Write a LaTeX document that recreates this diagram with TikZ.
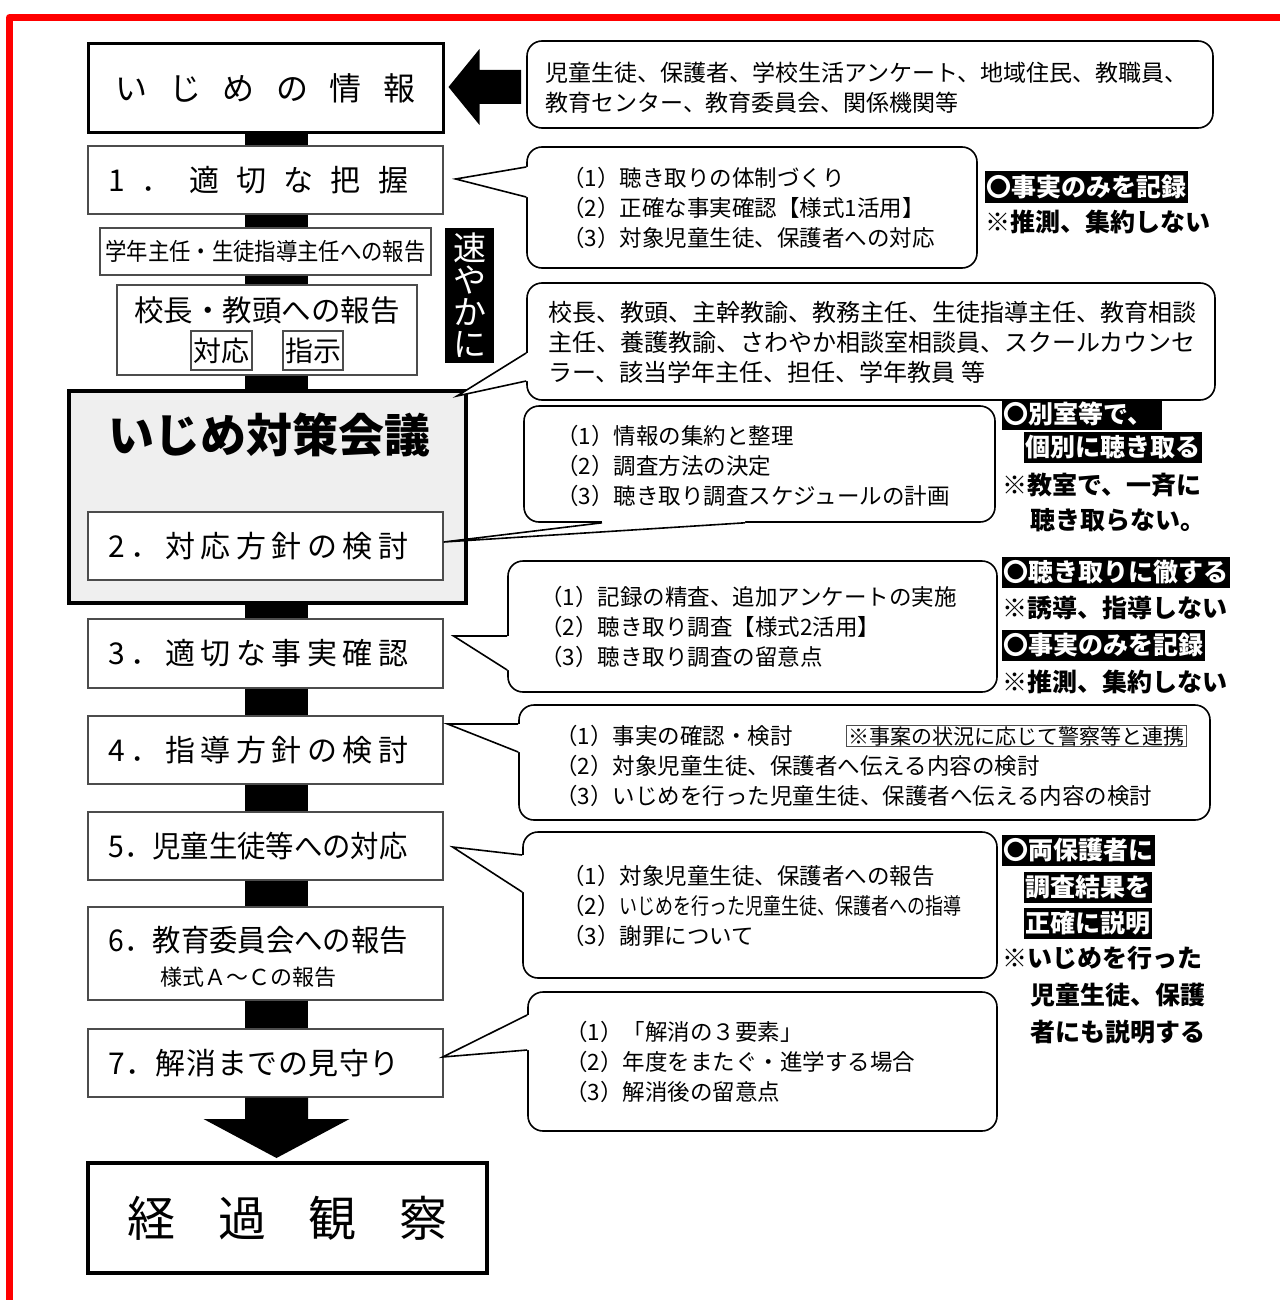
\documentclass[tikz,border=0pt]{standalone}
\usepackage{fontspec}
\usepackage{graphicx}
\setmainfont{Noto Sans CJK JP}
\usetikzlibrary{calc}
\definecolor{redframe}{RGB}{255,0,0}
\definecolor{confgray}{RGB}{239,239,239}
\newcommand{\fsz}[2]{\fontsize{#1}{#2}\selectfont}
\newcommand{\steptext}[2]{\makebox[315pt][l]{\makebox[#1]{#2}}}
\newcommand{\calloutptr}[5]{%
  \fill[white] ($(#1)+(#4,#5)$) -- (#1) -- (#2) -- (#3) -- ($(#3)+(#4,#5)$) -- cycle;
  \draw[ptr] (#1) -- (#2) -- (#3);}
\begin{document}
\begin{tikzpicture}[x=1pt,y=-1pt,
  stepbox/.style={draw=black!70, line width=1.2pt, fill=white, minimum width=355pt, minimum height=68pt, inner sep=0pt, font={\fsz{30}{36}}},
  thinbox/.style={draw=black!70, line width=1.2pt, fill=white, inner sep=0pt},
  cbox/.style={draw=black, line width=1.6pt, fill=white, rounded corners=15pt, inner sep=0pt},
  ptr/.style={draw=black, line width=1.6pt, line join=miter},
  ctext/.style={anchor=west, align=left, inner sep=0pt, font={\fsz{22.5}{30}}},
  hl/.style={fill=black, text=white, font={\bfseries\fsz{25}{30}}, inner xsep=1.5pt, inner ysep=0pt, minimum height=31pt, anchor=west},
  nt/.style={font={\bfseries\fsz{25}{30}}, inner sep=0pt, anchor=west},
  bar/.style={line width=63pt, draw=black}
]
\useasboundingbox (0,0) rectangle (1279,1300);
\fill[white] (0,0) rectangle (1279,1300);
\draw[redframe, line width=7pt, line join=round] (9.5,1320) -- (9.5,17.5) -- (1300,17.5);

% ---- left column ----
\node[draw=black, line width=3pt, fill=white, inner sep=0pt, minimum width=355pt, minimum height=89pt, font={\fsz{32}{36}}] (info) at (265.5,88.5)
  {\makebox[300pt]{い\hfill じ\hfill め\hfill の\hfill 情\hfill 報}};
\node[stepbox] (s1) at (265.5,180) {\steptext{300pt}{1\hfill ．\hfill 適\hfill 切\hfill な\hfill 把\hfill 握}};
\node[thinbox, minimum width=331pt, minimum height=47pt, font={\fsz{24}{28}}] (r1) at (265.5,251.5)
  {\scalebox{0.89}[1]{学年主任・生徒指導主任への報告}};
\node[thinbox, minimum width=300pt, minimum height=90pt] (r2) at (267,330) {};
\node[font={\fsz{29.5}{32}}, inner sep=0pt] (r2t) at (267,310) {校長・教頭への報告};
\node[thinbox, minimum width=61pt, minimum height=39pt, font={\fsz{28}{30}}] (r2a) at (221.5,350.5) {対応};
\node[thinbox, minimum width=60pt, minimum height=39pt, font={\fsz{28}{30}}] (r2b) at (313,350.5) {指示};
\node[fill=black, text=white, minimum width=49pt, minimum height=135pt, inner sep=0pt, align=center, font={\fsz{33}{32}}] (haya) at (469.5,295.5) {速\\や\\か\\に};

\node[draw=black, line width=4pt, fill=confgray, minimum width=397pt, minimum height=212pt] (conf) at (267.5,497) {};
\node[font={\bfseries\fsz{46}{50}}, inner sep=0pt] (conft) at (269,435) {いじめ対策会議};
\node[stepbox] (s2) at (265.5,546) {\steptext{300pt}{2\hfill ．\hfill 対\hfill 応\hfill 方\hfill 針\hfill の\hfill 検\hfill 討}};
\node[stepbox, minimum height=69pt] (s3) at (265.5,653.5) {\steptext{300pt}{3\hfill ．\hfill 適\hfill 切\hfill な\hfill 事\hfill 実\hfill 確\hfill 認}};
\node[stepbox] (s4) at (265.5,750) {\steptext{300pt}{4\hfill ．\hfill 指\hfill 導\hfill 方\hfill 針\hfill の\hfill 検\hfill 討}};
\node[stepbox] (s5) at (265.5,846) {\steptext{300pt}{\scalebox{0.945}[1]{5．児童生徒等への対応}}};
\node[stepbox, minimum height=93pt] (s6) at (265.5,953.5) {};
\node[font={\fsz{30}{36}}, inner sep=0pt, anchor=west] (s6t) at (108,940)
  {\makebox[300pt]{\scalebox{0.945}[1]{6．教育委員会への報告}}};
\node[font={\fsz{22}{26}}, inner sep=0pt, anchor=west] (s6u) at (160,977) {様式Ａ～Ｃの報告};
\node[stepbox] (s7) at (265.5,1063) {\steptext{292pt}{7\hfill ．\hfill 解\hfill 消\hfill ま\hfill で\hfill の\hfill 見\hfill 守\hfill り}};
\node[draw=black, line width=4pt, fill=white, inner sep=0pt, minimum width=399pt, minimum height=110pt, font={\fsz{48}{52}}] (final) at (287.5,1218)
  {\makebox[320pt]{経\hfill 過\hfill 観\hfill 察}};

% ---- black flow bar ----
\coordinate (bx) at (276.5,0);
\foreach \a/\b in {info/s1, s1/r1, r1/r2, r2/conf, conf/s3, s3/s4, s4/s5, s5/s6, s6/s7}
  \draw[bar] (\a.south -| bx) -- (\b.north -| bx);
\coordinate (bt) at ($(final.north -| bx)+(0,-3)$);
\fill ($(s7.south -| bx)+(-31.5,0)$) -- ($(bt)+(-31.5,-39)$) -- ($(bt)+(-73,-39)$) -- (bt)
  -- ($(bt)+(73,-39)$) -- ($(bt)+(31.5,-39)$) -- ($(s7.south -| bx)+(31.5,0)$) -- cycle;

% ---- callouts ----
\node[cbox, minimum width=686pt, minimum height=87pt] (c0) at (870,84.5) {};
\node[ctext, font={\fsz{23}{30}}] (c0t) at (545,88) {児童生徒、保護者、学校生活アンケート、地域住民、教職員、\\教育センター、教育委員会、関係機関等};
\coordinate (at) at ($(info.east)+(4,-1.5)$);
\coordinate (se) at ($(c0.west)+(-5,2.5)$);
\fill (at) -- ($(at)+(31,-38)$) -- ($(at)+(31,-17)$) -- ($(se)+(0,-17)$) -- ($(se)+(0,17)$)
  -- ($(at)+(31,17)$) -- ($(at)+(31,38)$) -- cycle;

\node[cbox, minimum width=450pt, minimum height=121pt] (c1) at (752,207.5) {};
\coordinate (p1a) at ($(c1.west)+(0,-40.5)$);
\coordinate (p1b) at ($(c1.west)+(0,-10.5)$);
\coordinate (p1t) at ($(s1.east)+(12,-1)$);
\calloutptr{p1a}{p1t}{p1b}{3}{0}
\node[ctext] (c1t) at (562,208) {（1）聴き取りの体制づくり\\（2）正確な事実確認【様式1活用】\\（3）対象児童生徒、保護者への対応};

\node[cbox, minimum width=688pt, minimum height=117pt] (c2) at (871,341.5) {};
\coordinate (p2a) at ($(c2.west)+(0,11.5)$);
\coordinate (p2b) at ($(c2.west)+(0,39.5)$);
\coordinate (p2t) at ($(conf.north east)+(-11,7)$);
\calloutptr{p2a}{p2t}{p2b}{3}{0}
\node[ctext, font={\fsz{24}{30}}] (c2t) at (548,342) {校長、教頭、主幹教諭、教務主任、生徒指導主任、教育相談\\主任、養護教諭、さわやか相談室相談員、スクールカウンセ\\ラー、該当学年主任、担任、学年教員\hspace{6pt}等};

\node[cbox, minimum width=471pt, minimum height=116pt] (c3) at (759.5,464) {};
\coordinate (p3a) at ($(c3.south)+(-157.5,0)$);
\coordinate (p3b) at ($(c3.south)+(-14.5,0)$);
\coordinate (p3t) at ($(s2.east)+(0,-4)$);
\calloutptr{p3a}{p3t}{p3b}{0}{-3}
\node[ctext] (c3t) at (556,466) {（1）情報の集約と整理\\（2）調査方法の決定\\（3）聴き取り調査スケジュールの計画};

\node[cbox, minimum width=489pt, minimum height=131pt] (c4) at (752.5,626.5) {};
\coordinate (p4a) at ($(c4.west)+(0,9.5)$);
\coordinate (p4b) at ($(c4.west)+(0,43.5)$);
\coordinate (p4t) at ($(s3.east)+(10,-17.5)$);
\calloutptr{p4a}{p4t}{p4b}{3}{0}
\node[ctext] (c4t) at (540,627) {（1）記録の精査、追加アンケートの実施\\（2）聴き取り調査【様式2活用】\\（3）聴き取り調査の留意点};

\node[cbox, minimum width=691pt, minimum height=115pt] (c5) at (864.5,762.5) {};
\coordinate (p5a) at ($(c5.west)+(0,-38.5)$);
\coordinate (p5b) at ($(c5.west)+(0,-10.5)$);
\coordinate (p5t) at ($(s4.east)+(4,-26)$);
\calloutptr{p5a}{p5t}{p5b}{3}{0}
\node[ctext] (c5t) at (555,766) {（1）事実の確認・検討\\（2）対象児童生徒、保護者へ伝える内容の検討\\（3）いじめを行った児童生徒、保護者へ伝える内容の検討};
\node[draw=black!70, line width=1pt, inner xsep=2pt, inner ysep=1pt, anchor=west, font={\fsz{21}{24}}] (c5n) at (846,736) {※事案の状況に応じて警察等と連携};

\node[cbox, minimum width=474pt, minimum height=146pt] (c6) at (760,905) {};
\coordinate (p6a) at ($(c6.west)+(0,-50)$);
\coordinate (p6b) at ($(c6.west)+(0,-13)$);
\coordinate (p6t) at ($(s5.east)+(9,1)$);
\calloutptr{p6a}{p6t}{p6b}{3}{0}
\node[ctext] (c6t) at (562,906) {（1）対象児童生徒、保護者への報告\\（2）\scalebox{0.8}[1]{いじめを行った児童生徒、保護者への指導}\\（3）謝罪について};

\node[cbox, minimum width=469pt, minimum height=139pt] (c7) at (762.5,1061.5) {};
\coordinate (p7a) at ($(c7.west)+(0,-46.5)$);
\coordinate (p7b) at ($(c7.west)+(0,-11.5)$);
\coordinate (p7t) at ($(s7.east)+(-1,-6)$);
\calloutptr{p7a}{p7t}{p7b}{3}{0}
\node[ctext] (c7t) at (565,1062) {（1）「解消の３要素」\\（2）年度をまたぐ・進学する場合\\（3）解消後の留意点};

% ---- right notes ----
\node[hl] (n1a) at (985,187) {〇事実のみを記録};
\node[nt] (n1b) at (985,222) {※推測、集約しない};

\node[hl, text width=157pt, align=left] (n2a) at (1002,414) {〇別室等で、};
\node[hl] (n2b) at (1024,447.5) {個別に聴き取る};
\node[nt] (n2c) at (1002,485) {※教室で、一斉に};
\node[nt] (n2d) at (1030,520) {聴き取らない。};

\node[hl] (n3a) at (1002,572) {〇聴き取りに徹する};
\node[nt] (n3b) at (1002,608) {※誘導、指導しない};
\node[hl] (n3c) at (1002,645.5) {〇事実のみを記録};
\node[nt] (n3d) at (1002,682) {※推測、集約しない};

\node[hl] (n4a) at (1002,850) {〇両保護者に};
\node[hl] (n4b) at (1024,887) {調査結果を};
\node[hl] (n4c) at (1024,923) {正確に説明};
\node[nt] (n4d) at (1002,958) {※いじめを行った};
\node[nt] (n4e) at (1030,995) {児童生徒、保護};
\node[nt] (n4f) at (1030,1032) {者にも説明する};
\end{tikzpicture}
\end{document}
